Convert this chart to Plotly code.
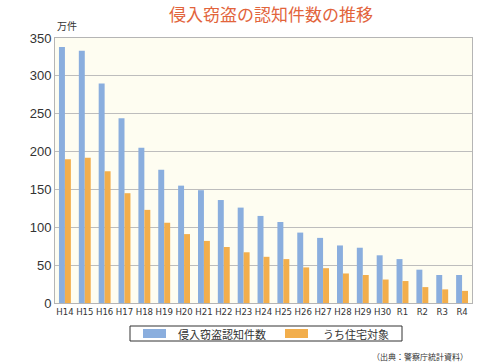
import plotly.graph_objects as go

categories = ["H14", "H15", "H16", "H17", "H18", "H19", "H20", "H21", "H22", "H23", "H24",
              "H25", "H26", "H27", "H28", "H29", "H30", "R1", "R2", "R3", "R4"]
total_values = [338, 333, 290, 244, 205, 176, 155, 149, 136, 126, 115,
                107, 93, 86, 76, 73, 63, 58, 44, 37, 37]
housing_values = [190, 192, 174, 145, 123, 106, 91, 82, 74, 67, 61,
                  58, 47, 46, 39, 37, 31, 29, 21, 18, 16]
series_names = ["侵入窃盗認知件数", "うち住宅対象"]
y_ticks = [0, 50, 100, 150, 200, 250, 300, 350]

BLUE = "#8AAEDE"
ORANGE = "#F2AE4C"
FONT = "Noto Sans CJK JP, Liberation Sans, Arial, sans-serif"

fig = go.Figure()
fig.add_trace(go.Bar(x=categories, y=total_values, name=series_names[0],
                     marker=dict(color=BLUE, line=dict(width=0))))
fig.add_trace(go.Bar(x=categories, y=housing_values, name=series_names[1],
                     marker=dict(color=ORANGE, line=dict(width=0))))

fig.update_layout(
    width=500, height=364,
    margin=dict(l=55, r=28, t=38, b=61),
    paper_bgcolor="white",
    plot_bgcolor="#FEFDF1",
    barmode="group", bargap=0.4, bargroupgap=0,
    showlegend=False,
    font=dict(family=FONT, color="#333333"),
    title=dict(text="侵入窃盗の認知件数の推移", x=0.542, xanchor="center", y=1 - 15.5 / 364, yanchor="middle",
               pad=dict(t=0, b=0), font=dict(size=17, color="#E2643C", family=FONT)),
)
fig.update_yaxes(range=[0, 350], tickvals=y_ticks, showgrid=True, gridcolor="#BDBDBD", gridwidth=1,
                 showline=True, linecolor="#B5B5B5", linewidth=1, mirror=True,
                 tickfont=dict(size=13, family="Liberation Sans, Arial, sans-serif", color="#333333"),
                 ticks="", zeroline=False)
fig.update_xaxes(showline=True, linecolor="#B5B5B5", linewidth=1, mirror=True,
                 tickfont=dict(size=9.5, family="DejaVu Sans Condensed, Liberation Sans Narrow, Arial", color="#333333"),
                 ticks="", tickangle=0)

# unit label
fig.add_annotation(text="万件", xref="paper", yref="paper", x=0.0, y=1.0, xanchor="left", yanchor="bottom",
                   yshift=3, showarrow=False, font=dict(size=10, family=FONT, color="#333333"))

# manual legend
fig.add_shape(type="rect", xref="paper", yref="paper", x0=(130-55)/417, x1=(402-55)/417,
              y0=-(326-303)/265, y1=-(341-303)/265, line=dict(color="#333333", width=1), fillcolor="white")
fig.add_shape(type="rect", xref="paper", yref="paper", x0=(143-55)/417, x1=(166-55)/417,
              y0=-(329-303)/265, y1=-(338-303)/265, line=dict(width=0), fillcolor=BLUE)
fig.add_shape(type="rect", xref="paper", yref="paper", x0=(285-55)/417, x1=(308-55)/417,
              y0=-(329-303)/265, y1=-(338-303)/265, line=dict(width=0), fillcolor=ORANGE)
fig.add_annotation(text=series_names[0], xref="paper", yref="paper", x=(176-55)/417, y=-(333.5-303)/265,
                   xanchor="left", yanchor="middle", showarrow=False, font=dict(size=11, family=FONT, color="#333333"))
fig.add_annotation(text=series_names[1], xref="paper", yref="paper", x=(321-55)/417, y=-(333.5-303)/265,
                   xanchor="left", yanchor="middle", showarrow=False, font=dict(size=11, family=FONT, color="#333333"))

# source
fig.add_annotation(text="（出典：警察庁統計資料）", xref="paper", yref="paper", x=(470-55)/417, y=-(356-303)/265,
                   xanchor="right", yanchor="middle", showarrow=False, font=dict(size=8, family=FONT, color="#333333"))

fig.write_html("out.html", config={"displayModeBar": False},
               post_script="document.body.style.margin='0';")
